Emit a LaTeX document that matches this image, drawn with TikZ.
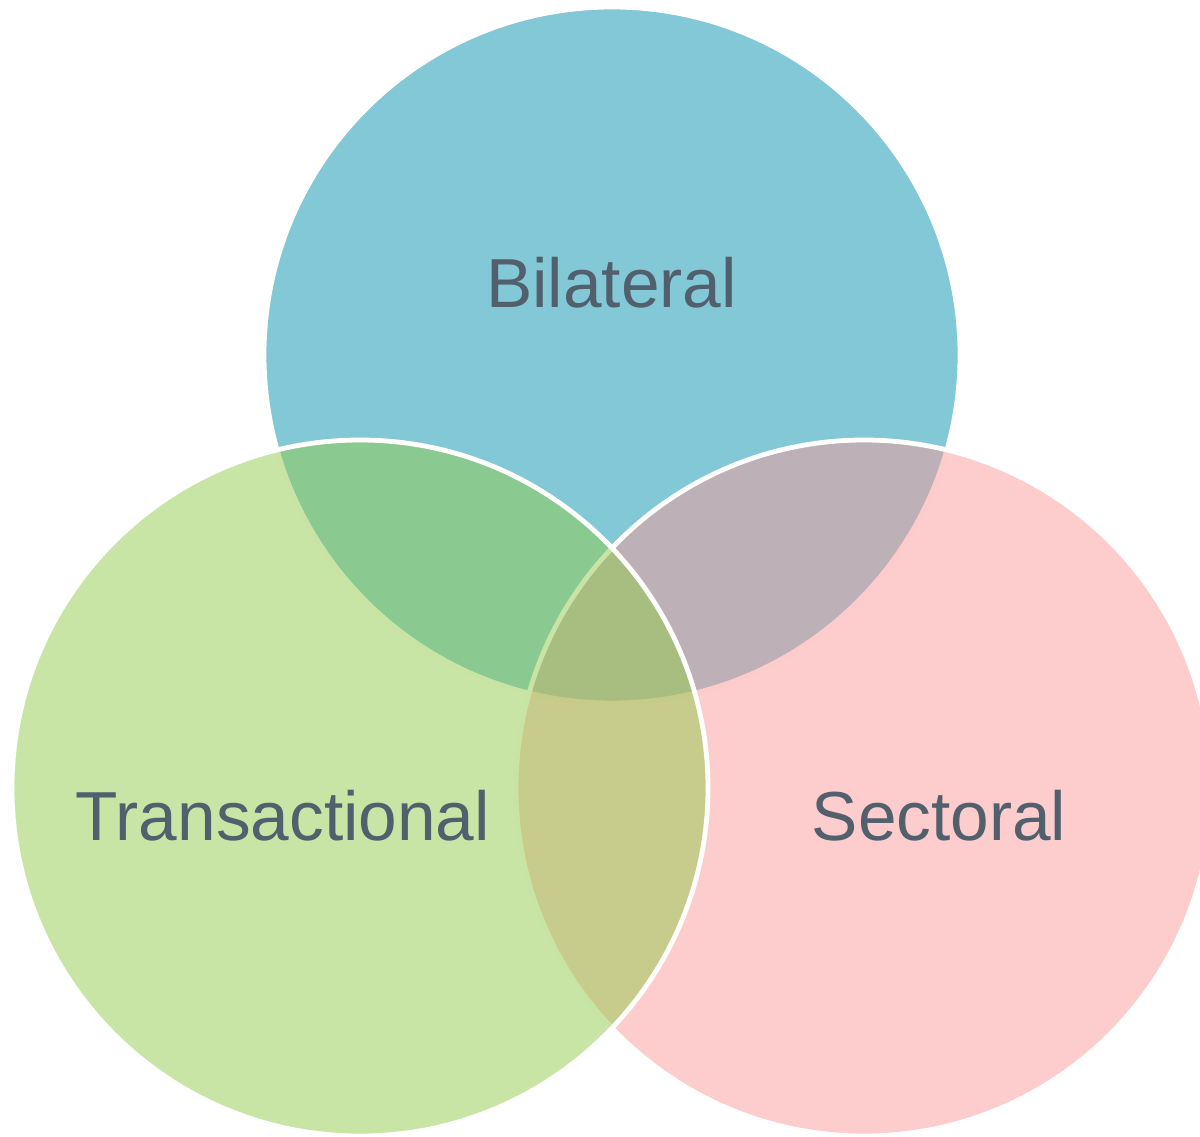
\documentclass[tikz,border=0pt]{standalone}
\usepackage{fontspec}
\setmainfont{Liberation Sans}
\definecolor{bluefill}{RGB}{130,200,215}
\definecolor{pinkfill}{RGB}{251,153,153}
\definecolor{greenfill}{RGB}{147,203,75}
\definecolor{labeltext}{RGB}{82,96,110}
\begin{document}
\begin{tikzpicture}[x=0.5pt,y=-0.5pt,
  setcircle/.style={draw=white,line width=2.4pt},
  setlabel/.style={text=labeltext,font=\fontsize{34.7}{40}\selectfont,anchor=base,inner sep=0pt}]
\useasboundingbox (0,0) rectangle (1200,1136);
\begin{scope}
\clip (0,0) rectangle (1200,1136);
% the three sets, drawn in stacking order
\path[setcircle,fill=bluefill] (612,355) circle[radius=348];
\path[setcircle,fill=pinkfill,fill opacity=0.5] (864,788) circle[radius=348];
\path[setcircle,fill=greenfill,fill opacity=0.5] (360,788) circle[radius=348];
\end{scope}
\node[setlabel] (bil) at (611.5,307) {Bilateral};
\node[setlabel] (tra) at (283,840) {Transactional};
\node[setlabel] (sec) at (939,840) {Sectoral};
\end{tikzpicture}
\end{document}
